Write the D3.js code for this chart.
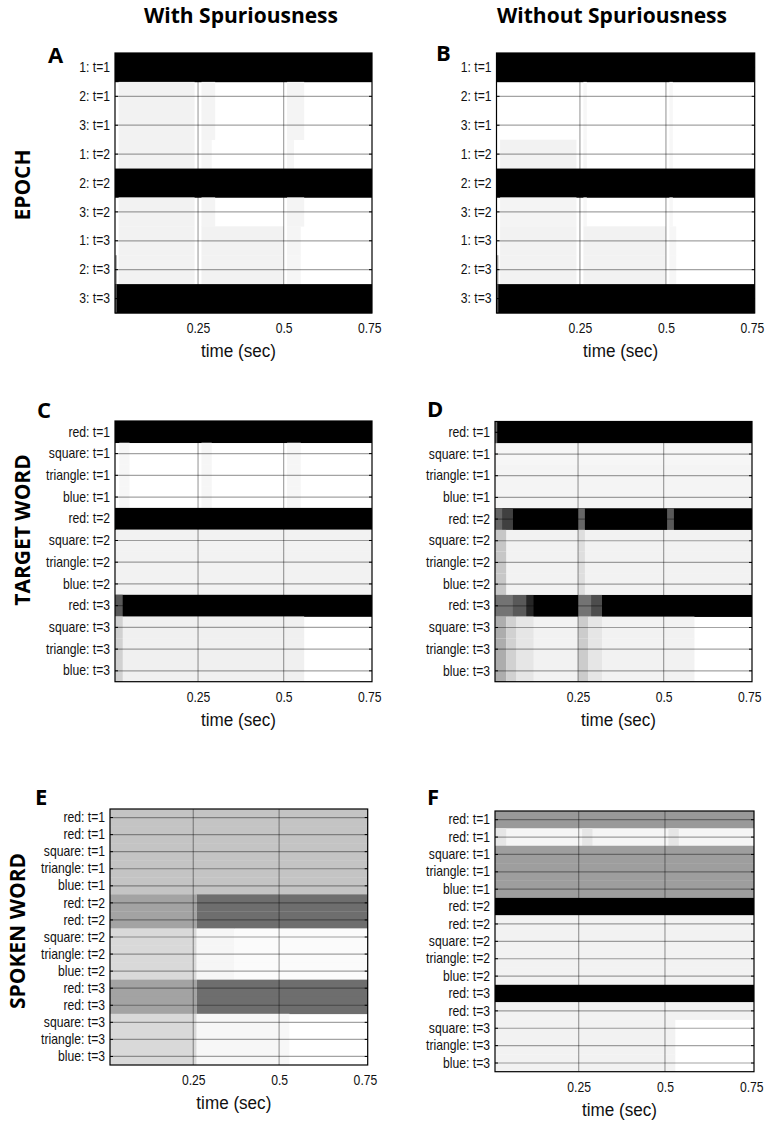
<!DOCTYPE html>
<html>
<head>
<meta charset="utf-8">
<script src="https://cdn.jsdelivr.net/npm/d3@7/dist/d3.min.js"></script>
<style>
  html, body { margin: 0; padding: 0; background: #fff; }
  svg { display: block; }
  .lab { font-family: "Liberation Sans", Arial, sans-serif; fill: #111; }
  .head { font-family: "Open Sans", "Liberation Sans", sans-serif; font-weight: 700; fill: #000; }
</style>
</head>
<body>
<svg id="chart" width="768" height="1125"></svg>
<script>
// ---------------- DATA ----------------
const columnTitles = ["With Spuriousness", "Without Spuriousness"];
const rowTitles = ["EPOCH", "TARGET WORD", "SPOKEN WORD"];
const panelLetters = ["A", "B", "C", "D", "E", "F"];
const timeTicks = [0.25, 0.5, 0.75];
const timeDomain = [0.0075, 0.758];
const xAxisTitle = "time (sec)";

const epochRows = ["1: t=1", "2: t=1", "3: t=1", "1: t=2", "2: t=2", "3: t=2", "1: t=3", "2: t=3", "3: t=3"];
const targetRows = ["red: t=1", "square: t=1", "triangle: t=1", "blue: t=1",
                    "red: t=2", "square: t=2", "triangle: t=2", "blue: t=2",
                    "red: t=3", "square: t=3", "triangle: t=3", "blue: t=3"];
const spokenRows = ["red: t=1", "red: t=1", "square: t=1", "triangle: t=1", "blue: t=1",
                    "red: t=2", "red: t=2", "square: t=2", "triangle: t=2", "blue: t=2",
                    "red: t=3", "red: t=3", "square: t=3", "triangle: t=3", "blue: t=3"];

// cells: [row index, time start (s), time end (s), activation 0..1]
const epochWithCells = [
  [0, 0, 0.76, 1],
  [1, 0.018, 0.24, 0.05], [1, 0.26, 0.30, 0.045], [1, 0.51, 0.56, 0.045],
  [2, 0.018, 0.24, 0.05], [2, 0.26, 0.30, 0.045], [2, 0.51, 0.56, 0.045],
  [3, 0.018, 0.24, 0.05], [3, 0.26, 0.29, 0.035], [3, 0.51, 0.53, 0.035],
  [4, 0, 0.76, 1],
  [5, 0.018, 0.24, 0.05], [5, 0.26, 0.30, 0.045], [5, 0.51, 0.56, 0.045],
  [6, 0.018, 0.24, 0.05], [6, 0.26, 0.50, 0.05], [6, 0.51, 0.55, 0.04],
  [7, 0.018, 0.24, 0.05], [7, 0.26, 0.50, 0.05], [7, 0.51, 0.55, 0.035], [7, 0, 0.013, 0.35],
  [8, 0, 0.76, 1], [8, 0, 0.013, 0.7]
];
const epochWithoutCells = [
  [0, 0, 0.76, 1],
  [1, 0.26, 0.27, 0.03], [1, 0.51, 0.52, 0.03],
  [2, 0.26, 0.27, 0.03], [2, 0.51, 0.52, 0.03],
  [3, 0.018, 0.24, 0.05], [3, 0.26, 0.27, 0.035], [3, 0.51, 0.52, 0.03],
  [4, 0, 0.76, 1],
  [5, 0.018, 0.24, 0.045], [5, 0.26, 0.27, 0.03], [5, 0.51, 0.52, 0.03],
  [6, 0.018, 0.24, 0.05], [6, 0.26, 0.50, 0.05], [6, 0.51, 0.53, 0.035],
  [7, 0.018, 0.24, 0.05], [7, 0.26, 0.50, 0.05], [7, 0.51, 0.53, 0.035], [7, 0, 0.013, 0.35],
  [8, 0, 0.76, 1], [8, 0, 0.013, 0.7]
];
const targetWithCells = [
  [0, 0, 0.76, 1],
  [1, 0.02, 0.05, 0.035], [1, 0.26, 0.29, 0.035], [1, 0.51, 0.55, 0.035],
  [2, 0.02, 0.05, 0.035], [2, 0.26, 0.29, 0.035], [2, 0.51, 0.55, 0.035],
  [3, 0.02, 0.05, 0.035], [3, 0.26, 0.29, 0.035], [3, 0.51, 0.55, 0.035],
  [4, 0, 0.76, 1],
  [5, 0.01, 0.76, 0.05], [6, 0.01, 0.76, 0.05], [7, 0.01, 0.76, 0.05],
  [8, 0, 0.76, 1], [8, 0, 0.03, 0.65],
  [9, 0, 0.56, 0.06], [9, 0, 0.03, 0.18],
  [10, 0, 0.56, 0.06], [10, 0, 0.03, 0.18],
  [11, 0, 0.56, 0.06], [11, 0, 0.03, 0.18]
];
const targetWithoutCells = [
  [0, 0, 0.76, 1], [0, 0, 0.014, 0.6],
  [1, 0, 0.76, 0.035], [2, 0, 0.76, 0.045], [3, 0, 0.76, 0.045],
  [4, 0, 0.76, 1], [4, 0, 0.03, 0.6], [4, 0.03, 0.06, 0.75], [4, 0.25, 0.27, 0.6], [4, 0.51, 0.53, 0.65],
  [5, 0, 0.76, 0.05], [5, 0, 0.04, 0.22], [5, 0.25, 0.27, 0.13],
  [6, 0, 0.76, 0.05], [6, 0, 0.04, 0.22], [6, 0.25, 0.27, 0.13],
  [7, 0, 0.76, 0.05], [7, 0, 0.04, 0.22], [7, 0.25, 0.27, 0.13],
  [8, 0, 0.76, 1], [8, 0, 0.06, 0.55], [8, 0.06, 0.10, 0.65], [8, 0.10, 0.12, 0.85], [8, 0.25, 0.29, 0.55], [8, 0.29, 0.32, 0.7],
  [9, 0, 0.59, 0.05], [9, 0, 0.04, 0.32], [9, 0.04, 0.07, 0.18], [9, 0.07, 0.12, 0.1], [9, 0.25, 0.28, 0.2], [9, 0.28, 0.32, 0.1],
  [10, 0, 0.59, 0.05], [10, 0, 0.04, 0.32], [10, 0.04, 0.07, 0.18], [10, 0.07, 0.12, 0.1], [10, 0.25, 0.28, 0.2], [10, 0.28, 0.32, 0.1],
  [11, 0, 0.59, 0.05], [11, 0, 0.04, 0.32], [11, 0.04, 0.07, 0.18], [11, 0.07, 0.12, 0.1], [11, 0.25, 0.28, 0.2], [11, 0.28, 0.32, 0.1]
];
const spokenWithCells = [
  [0, 0, 0.76, 0.23], [1, 0, 0.76, 0.23], [2, 0, 0.76, 0.23], [3, 0, 0.76, 0.23], [4, 0, 0.76, 0.23],
  [5, 0, 0.26, 0.36], [5, 0.26, 0.76, 0.57],
  [6, 0, 0.26, 0.36], [6, 0.26, 0.76, 0.57],
  [7, 0, 0.26, 0.15], [7, 0.26, 0.37, 0.035], [7, 0.37, 0.76, 0.015],
  [8, 0, 0.26, 0.15], [8, 0.26, 0.37, 0.035], [8, 0.37, 0.76, 0.015],
  [9, 0, 0.26, 0.15], [9, 0.26, 0.37, 0.035], [9, 0.37, 0.76, 0.015],
  [10, 0, 0.26, 0.36], [10, 0.26, 0.76, 0.57],
  [11, 0, 0.26, 0.36], [11, 0.26, 0.76, 0.57],
  [12, 0, 0.26, 0.15], [12, 0.26, 0.53, 0.03],
  [13, 0, 0.26, 0.15], [13, 0.26, 0.53, 0.03],
  [14, 0, 0.26, 0.15], [14, 0.26, 0.53, 0.03]
];
const spokenWithoutCells = [
  [0, 0, 0.76, 0.4],
  [1, 0, 0.76, 0.04], [1, 0.01, 0.04, 0.1], [1, 0.26, 0.29, 0.1], [1, 0.51, 0.54, 0.1],
  [2, 0, 0.76, 0.38], [3, 0, 0.76, 0.38], [4, 0, 0.76, 0.38],
  [5, 0, 0.76, 1],
  [6, 0, 0.76, 0.05], [7, 0, 0.76, 0.05], [8, 0, 0.76, 0.05], [9, 0, 0.76, 0.05],
  [10, 0, 0.76, 1],
  [11, 0, 0.76, 0.05],
  [12, 0, 0.53, 0.05], [13, 0, 0.53, 0.05], [14, 0, 0.53, 0.05]
];

// ---------------- LAYOUT ----------------
const panels = [
  { letter: panelLetters[0], rows: epochRows,  cells: epochWithCells,     box: [115, 53, 372, 313],     lp: [48, 63] },
  { letter: panelLetters[1], rows: epochRows,  cells: epochWithoutCells,  box: [496.5, 53, 754.7, 313], lp: [436, 61] },
  { letter: panelLetters[2], rows: targetRows, cells: targetWithCells,    box: [115, 421, 372, 681.7],  lp: [37, 418] },
  { letter: panelLetters[3], rows: targetRows, cells: targetWithoutCells, box: [495, 421.5, 752, 681.7],lp: [427, 417] },
  { letter: panelLetters[4], rows: spokenRows, cells: spokenWithCells,    box: [110, 809, 367.7, 1065], lp: [35, 805] },
  { letter: panelLetters[5], rows: spokenRows, cells: spokenWithoutCells, box: [495, 811, 754, 1071.7], lp: [427, 805] }
];

const svg = d3.select("#chart");
const shade = d3.scaleLinear().domain([0, 1]).range(["#ffffff", "#000000"]).clamp(true);
const squeeze = 0.84;

panels.forEach(p => {
  const [x0, y0, x1, y1] = p.box;
  const x = d3.scaleLinear().domain(timeDomain).range([x0, x1]).clamp(true);
  const y = d3.scaleBand().domain(d3.range(p.rows.length)).range([y0, y1]).padding(0);
  const g = svg.append("g");

  g.append("rect").attr("x", x0).attr("y", y0).attr("width", x1 - x0).attr("height", y1 - y0).attr("fill", "#fff");

  g.selectAll("rect.cell").data(p.cells).join("rect")
    .attr("class", "cell")
    .attr("x", d => x(d[1]))
    .attr("width", d => Math.max(0, x(d[2]) - x(d[1])))
    .attr("y", d => y(d[0]))
    .attr("height", y.bandwidth() + 0.3)
    .attr("fill", d => shade(d[3]));

  // grid lines
  const grid = g.append("g").attr("stroke", "#000").attr("stroke-opacity", 0.36).attr("stroke-width", 1.2);
  grid.selectAll("line.h").data(d3.range(p.rows.length)).join("line")
    .attr("x1", x0).attr("x2", x1)
    .attr("y1", i => y(i) + y.bandwidth() / 2).attr("y2", i => y(i) + y.bandwidth() / 2);
  grid.selectAll("line.v").data(timeTicks.slice(0, 2)).join("line")
    .attr("x1", d => x(d)).attr("x2", d => x(d))
    .attr("y1", y0).attr("y2", y1);

  // small inward ticks on both sides
  const tk = g.append("g").attr("stroke", "#000").attr("stroke-width", 1);
  d3.range(p.rows.length).forEach(i => {
    const yy = y(i) + y.bandwidth() / 2;
    tk.append("line").attr("x1", x0).attr("x2", x0 + 3).attr("y1", yy).attr("y2", yy);
    tk.append("line").attr("x1", x1 - 3).attr("x2", x1).attr("y1", yy).attr("y2", yy);
  });

  // frame
  g.append("rect").attr("x", x0).attr("y", y0).attr("width", x1 - x0).attr("height", y1 - y0)
    .attr("fill", "none").attr("stroke", "#000").attr("stroke-width", 1.2);

  // y axis labels
  const ya = g.append("g").attr("transform", `translate(${x0},0)`)
    .call(d3.axisLeft(y).tickSize(0).tickPadding(5).tickFormat(i => p.rows[i]));
  ya.select(".domain").remove();
  ya.selectAll("text").attr("class", "lab").attr("font-size", 14.5).attr("font-family", null)
    .attr("x", -5 / squeeze).attr("transform", `scale(${squeeze},1)`);

  // x axis labels
  const xa = g.append("g").attr("transform", `translate(0,${y1})`)
    .call(d3.axisBottom(x).tickValues(timeTicks).tickSize(0).tickPadding(10).tickFormat(d => String(d)));
  xa.select(".domain").remove();
  xa.selectAll("text").attr("class", "lab").attr("font-size", 14.5).attr("font-family", null)
    .attr("transform", `scale(${squeeze},1)`);

  g.append("text").attr("class", "lab")
    .attr("transform", `translate(${(x0 + x1) / 2 - 5},${y1 + 44}) scale(0.9,1)`)
    .attr("text-anchor", "middle").attr("font-size", 19).text(xAxisTitle);

  g.append("text").attr("class", "head").attr("x", p.lp[0]).attr("y", p.lp[1])
    .attr("font-size", 22).text(p.letter);
});

// column titles
[[241, 23], [612, 23]].forEach((pos, i) => {
  svg.append("text").attr("class", "head").attr("x", pos[0]).attr("y", pos[1])
    .attr("text-anchor", "middle").attr("font-size", 21).text(columnTitles[i]);
});
// row titles
[[30, 185], [30, 530], [25, 931]].forEach((pos, i) => {
  svg.append("text").attr("class", "head")
    .attr("transform", `translate(${pos[0]},${pos[1]}) rotate(-90)`)
    .attr("text-anchor", "middle").attr("font-size", 21).text(rowTitles[i]);
});
</script>
</body>
</html>
